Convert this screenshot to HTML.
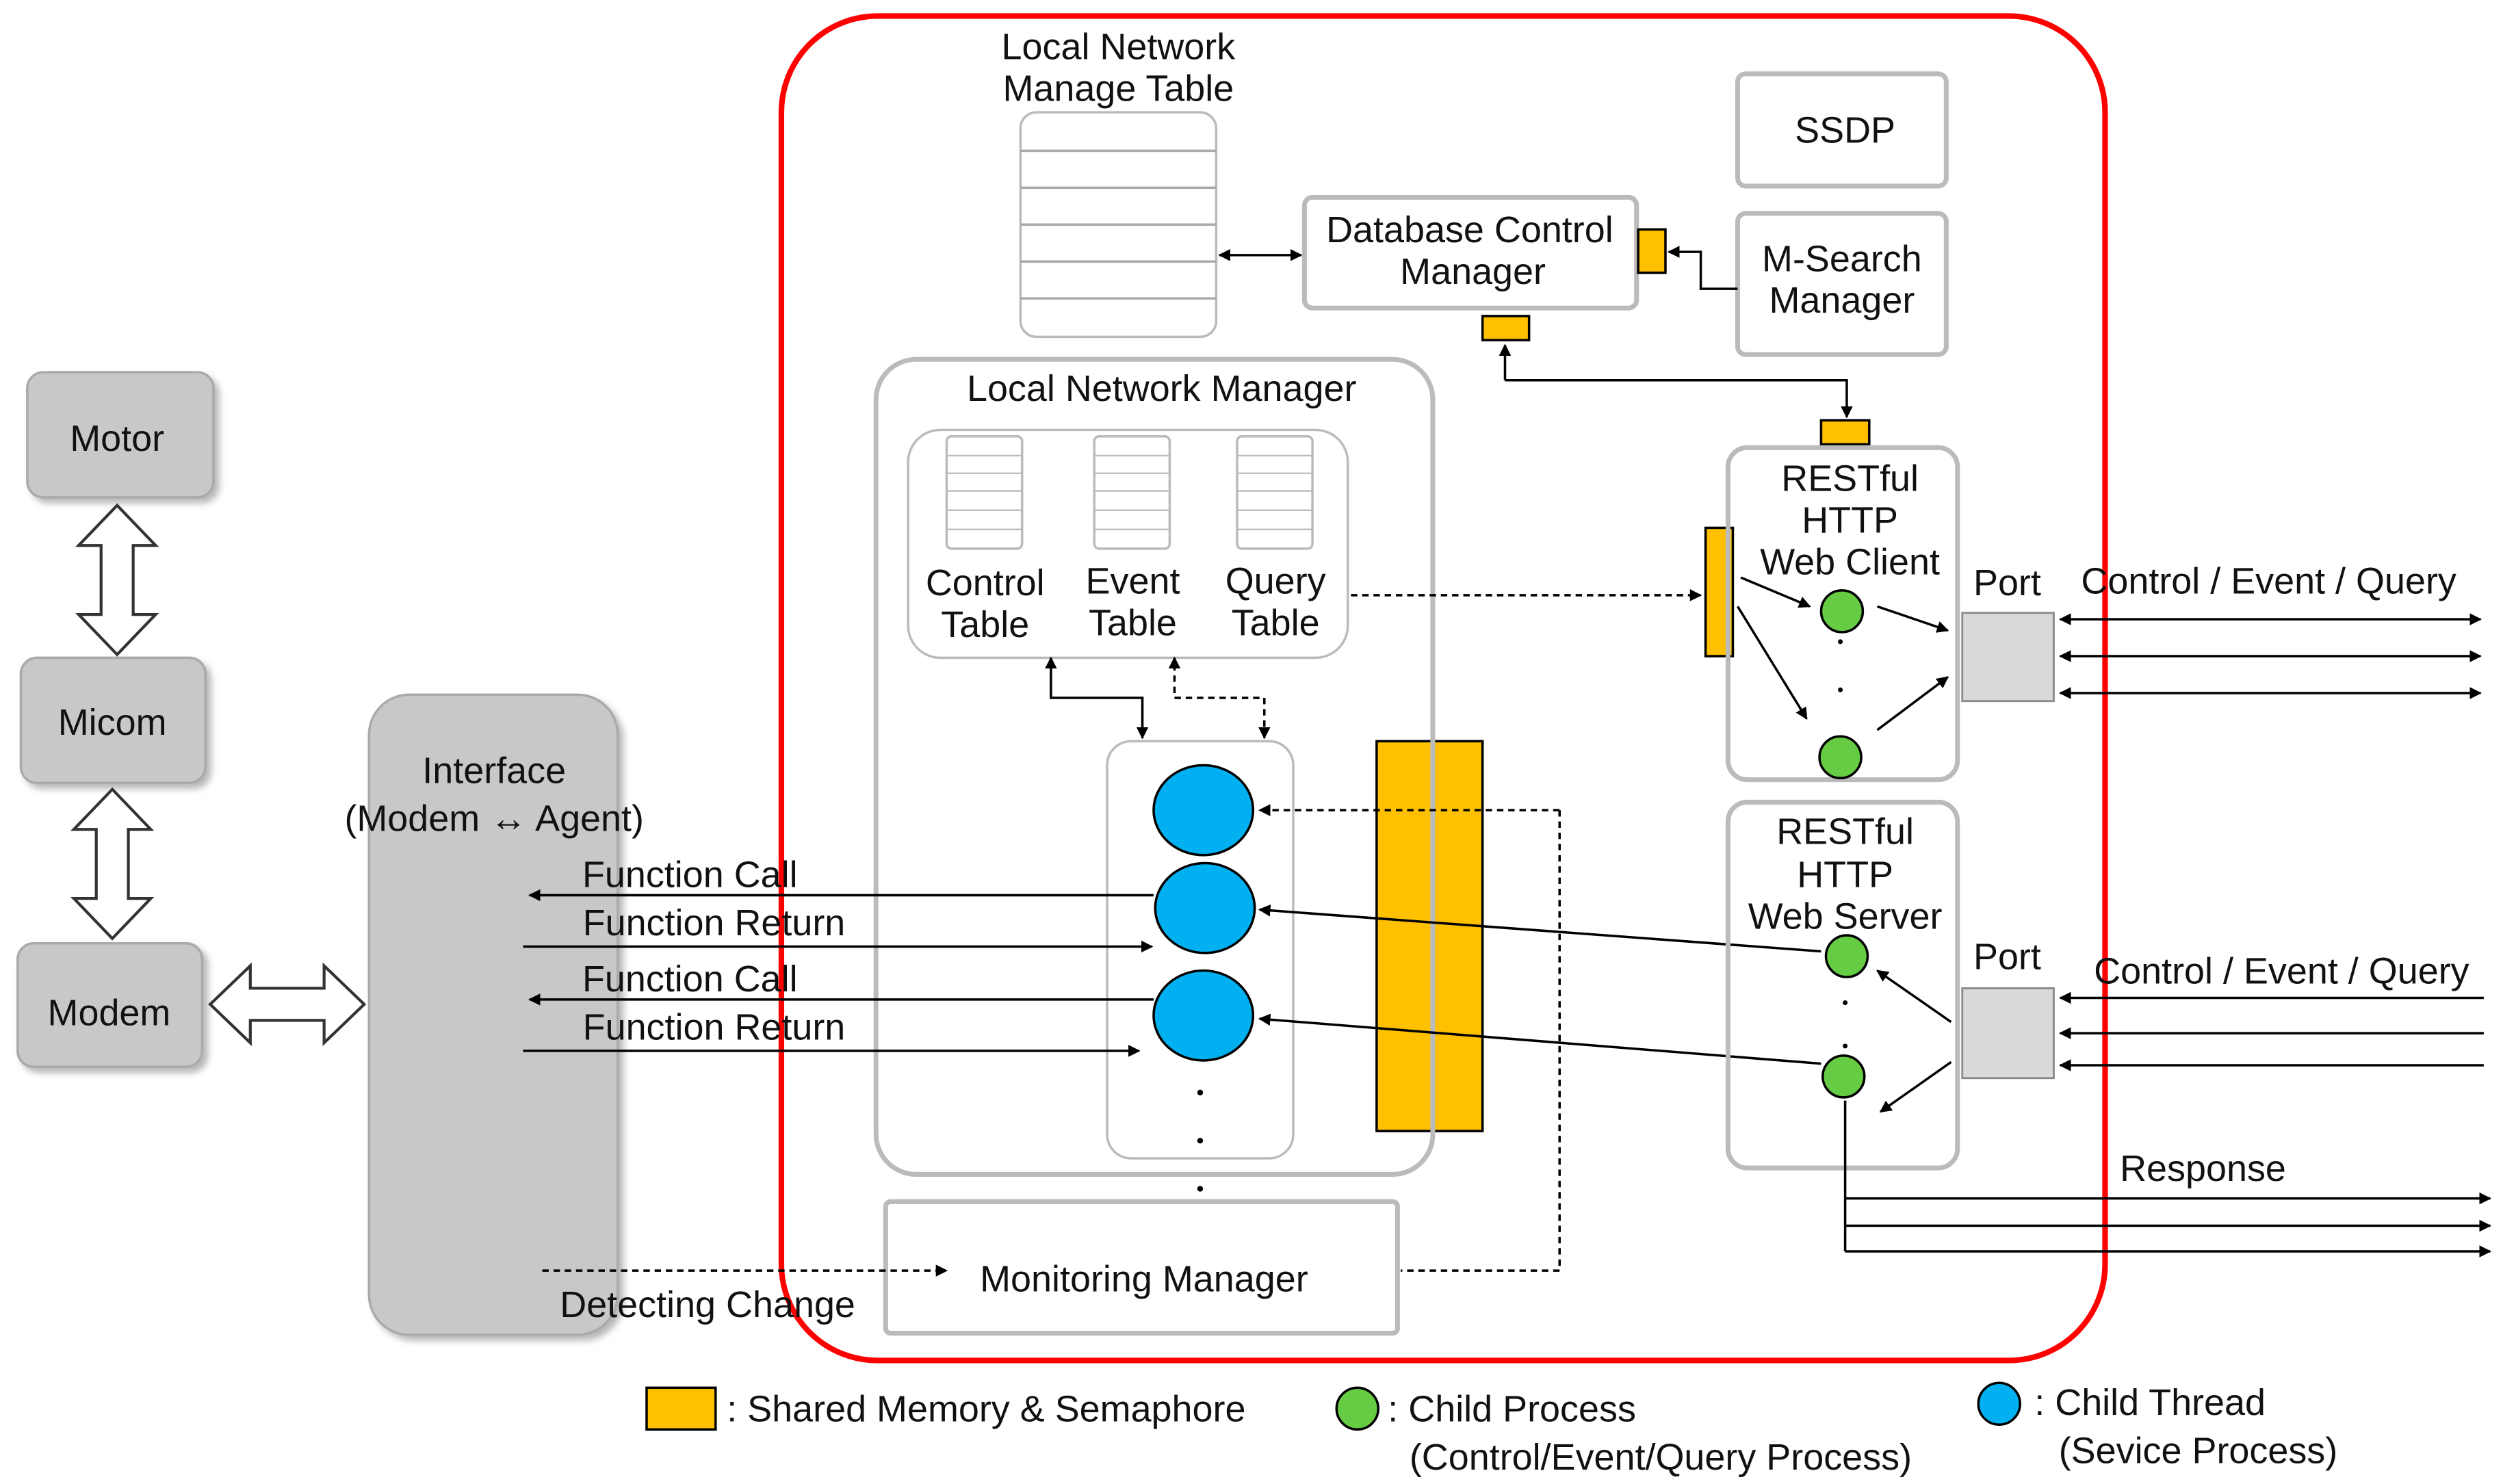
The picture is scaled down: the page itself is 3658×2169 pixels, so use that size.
<!DOCTYPE html>
<html><head><meta charset="utf-8"><style>
html,body{margin:0;padding:0;background:#fff}
svg{display:block}
text{font-family:"Liberation Sans",sans-serif;font-size:23px;fill:#111}
</style></head><body>
<svg width="3658" height="2169" viewBox="0 0 1560 925" preserveAspectRatio="none" xmlns="http://www.w3.org/2000/svg">
<defs>
<marker id="a" viewBox="0 0 10 10" refX="9" refY="5" markerWidth="5" markerHeight="5" orient="auto-start-reverse"><path d="M0,0 L10,5 L0,10 z" fill="#000"/></marker>
<filter id="sh" x="-20%" y="-20%" width="150%" height="150%"><feDropShadow dx="3" dy="3" stdDeviation="2" flood-color="#888" flood-opacity="0.6"/></filter>
</defs>
<!-- red container -->
<rect x="487" y="10" width="825" height="838" rx="60" fill="none" stroke="#f00" stroke-width="3.5"/>

<!-- left gray boxes -->
<g fill="#c8c8c8" stroke="#aaa" stroke-width="1.5" filter="url(#sh)">
<rect x="17" y="232" width="116" height="78" rx="10"/>
<rect x="13" y="410" width="115" height="78" rx="10"/>
<rect x="11" y="588" width="115" height="77" rx="10"/>
<rect x="230" y="433" width="155" height="399" rx="25"/>
</g>
<text x="73" y="281" text-anchor="middle">Motor</text>
<text x="70" y="458" text-anchor="middle">Micom</text>
<text x="68" y="639" text-anchor="middle">Modem</text>
<text x="308" y="488" text-anchor="middle">Interface</text>
<text x="308" y="518" text-anchor="middle">(Modem ↔ Agent)</text>

<!-- hollow double arrows -->
<g fill="#fff" stroke="#333" stroke-width="1.8">
<path d="M73,315 L97,340 L83,340 L83,383 L97,383 L73,408 L49,383 L63,383 L63,340 L49,340 Z"/>
<path d="M70,492 L94,517 L80,517 L80,560 L94,560 L70,585 L46,560 L60,560 L60,517 L46,517 Z"/>
<path d="M131,626 L156,602 L156,616 L202,616 L202,602 L227,626 L202,650 L202,636 L156,636 L156,650 Z"/>
</g>

<!-- Local network manage table -->
<text x="697" y="37" text-anchor="middle">Local Network</text>
<text x="697" y="63" text-anchor="middle">Manage Table</text>
<rect x="636" y="70" width="122" height="140" rx="10" fill="#fff" stroke="#bbb" stroke-width="1.5"/>
<g stroke="#aaa" stroke-width="1.5">
<line x1="636" y1="94" x2="758" y2="94"/><line x1="636" y1="117" x2="758" y2="117"/><line x1="636" y1="140" x2="758" y2="140"/><line x1="636" y1="163" x2="758" y2="163"/><line x1="636" y1="186" x2="758" y2="186"/>
</g>
<line x1="760" y1="159" x2="811" y2="159" stroke="#000" stroke-width="1.5" marker-start="url(#a)" marker-end="url(#a)"/>

<!-- DB control manager -->
<rect x="813" y="123" width="207" height="69" rx="5" fill="#fff" stroke="#bbb" stroke-width="3"/>
<text x="916" y="151" text-anchor="middle">Database Control</text>
<text x="918" y="177" text-anchor="middle">Manager</text>
<rect x="1083" y="46" width="130" height="70" rx="5" fill="#fff" stroke="#bbb" stroke-width="3"/>
<text x="1150" y="89" text-anchor="middle">SSDP</text>
<rect x="1083" y="133" width="130" height="88" rx="5" fill="#fff" stroke="#bbb" stroke-width="3"/>
<text x="1148" y="169" text-anchor="middle">M-Search</text>
<text x="1148" y="195" text-anchor="middle">Manager</text>

<g fill="#ffc000" stroke="#000" stroke-width="1.5">
<rect x="1021" y="143" width="17" height="27"/>
<rect x="924" y="197" width="29" height="15"/>
<rect x="1135" y="262" width="30" height="15"/>
<rect x="1063" y="329" width="17" height="80"/>
<rect x="858" y="462" width="66" height="243"/>
</g>
<g stroke="#000" stroke-width="1.5" fill="none">
<polyline points="1083,180 1060,180 1060,157 1040,157" marker-end="url(#a)"/>
<polyline points="938,237 938,215" marker-end="url(#a)"/>
<polyline points="938,237 1151,237 1151,260" marker-end="url(#a)"/>
</g>

<!-- Local network manager -->
<rect x="546" y="224" width="347" height="508" rx="25" fill="none" stroke="#bbb" stroke-width="3"/>
<text x="724" y="250" text-anchor="middle">Local Network Manager</text>
<rect x="566" y="268" width="274" height="142" rx="20" fill="#fff" stroke="#bbb" stroke-width="1.5"/>
<g fill="#fff" stroke="#bbb" stroke-width="1.5">
<rect x="590" y="272" width="47" height="70" rx="3"/>
<rect x="682" y="272" width="47" height="70" rx="3"/>
<rect x="771" y="272" width="47" height="70" rx="3"/>
</g>
<g stroke="#bbb" stroke-width="1">
<path d="M590,284h47M590,295h47M590,306h47M590,318h47M590,330h47"/>
<path d="M682,284h47M682,295h47M682,306h47M682,318h47M682,330h47"/>
<path d="M771,284h47M771,295h47M771,306h47M771,318h47M771,330h47"/>
</g>
<text x="614" y="371" text-anchor="middle">Control</text><text x="614" y="397" text-anchor="middle">Table</text>
<text x="706" y="370" text-anchor="middle">Event</text><text x="706" y="396" text-anchor="middle">Table</text>
<text x="795" y="370" text-anchor="middle">Query</text><text x="795" y="396" text-anchor="middle">Table</text>

<line x1="842" y1="371" x2="1060" y2="371" stroke="#000" stroke-width="1.5" stroke-dasharray="4,3" marker-end="url(#a)"/>

<rect x="690" y="462" width="116" height="260" rx="15" fill="#fff" stroke="#bbb" stroke-width="1.5"/>
<g stroke="#000" stroke-width="1.5" fill="none">
<polyline points="712,460 712,435 655,435 655,410" marker-start="url(#a)" marker-end="url(#a)"/>
<polyline points="788,460 788,435 732,435 732,410" stroke-dasharray="4,3" marker-start="url(#a)" marker-end="url(#a)"/>
</g>
<g fill="#00b0f0" stroke="#000" stroke-width="1.5">
<ellipse cx="750" cy="505" rx="31" ry="28"/>
<ellipse cx="751" cy="566" rx="31" ry="28"/>
<ellipse cx="750" cy="633" rx="31" ry="28"/>
</g>
<g fill="#000"><circle cx="748" cy="681" r="1.8"/><circle cx="748" cy="711" r="1.8"/><circle cx="748" cy="741" r="1.8"/></g>

<!-- monitoring -->
<rect x="552" y="749" width="319" height="82" rx="3" fill="#fff" stroke="#bbb" stroke-width="3"/>
<text x="713" y="805" text-anchor="middle">Monitoring Manager</text>
<text x="441" y="821" text-anchor="middle">Detecting Change</text>

<g stroke="#000" stroke-width="1.5" fill="none">
<polyline points="972,505 785,505" stroke-dasharray="4,3" marker-end="url(#a)"/>
<polyline points="972,505 972,792 873,792" stroke-dasharray="4,3"/>
<line x1="719" y1="558" x2="330" y2="558" marker-end="url(#a)"/>
<line x1="326" y1="590" x2="718" y2="590" marker-end="url(#a)"/>
<line x1="719" y1="623" x2="330" y2="623" marker-end="url(#a)"/>
<line x1="326" y1="655" x2="710" y2="655" marker-end="url(#a)"/>
<line x1="1135" y1="593" x2="785" y2="567" marker-end="url(#a)"/>
<line x1="1135" y1="663" x2="785" y2="635" marker-end="url(#a)"/>
<line x1="338" y1="792" x2="590" y2="792" stroke-dasharray="4,3" marker-end="url(#a)"/>
</g>
<text x="430" y="553" text-anchor="middle">Function Call</text>
<text x="445" y="583" text-anchor="middle">Function Return</text>
<text x="430" y="618" text-anchor="middle">Function Call</text>
<text x="445" y="648" text-anchor="middle">Function Return</text>

<!-- web client -->
<rect x="1077" y="279" width="143" height="207" rx="12" fill="none" stroke="#bbb" stroke-width="3"/>
<text x="1153" y="306" text-anchor="middle">RESTful</text>
<text x="1153" y="332" text-anchor="middle">HTTP</text>
<text x="1153" y="358" text-anchor="middle">Web Client</text>
<g fill="#66cc44" stroke="#000" stroke-width="1.5">
<circle cx="1148" cy="381" r="13"/><circle cx="1147" cy="472" r="13"/>
<circle cx="1151" cy="596" r="13"/><circle cx="1149" cy="671" r="13"/>
</g>
<g fill="#000"><circle cx="1147" cy="400" r="1.5"/><circle cx="1147" cy="430" r="1.5"/><circle cx="1150" cy="625" r="1.5"/><circle cx="1150" cy="652" r="1.5"/></g>
<g stroke="#000" stroke-width="1.5">
<line x1="1085" y1="360" x2="1128" y2="378" marker-end="url(#a)"/>
<line x1="1083" y1="378" x2="1126" y2="448" marker-end="url(#a)"/>
<line x1="1170" y1="378" x2="1214" y2="393" marker-end="url(#a)"/>
<line x1="1170" y1="455" x2="1214" y2="422" marker-end="url(#a)"/>
<line x1="1216" y1="637" x2="1170" y2="605" marker-end="url(#a)"/>
<line x1="1216" y1="662" x2="1172" y2="693" marker-end="url(#a)"/>
</g>
<rect x="1223" y="382" width="57" height="55" fill="#d9d9d9" stroke="#888" stroke-width="1.2"/>
<text x="1251" y="371" text-anchor="middle">Port</text>
<text x="1414" y="370" text-anchor="middle">Control / Event / Query</text>
<g stroke="#000" stroke-width="1.5">
<line x1="1284" y1="386" x2="1546" y2="386" marker-start="url(#a)" marker-end="url(#a)"/>
<line x1="1284" y1="409" x2="1546" y2="409" marker-start="url(#a)" marker-end="url(#a)"/>
<line x1="1284" y1="432" x2="1546" y2="432" marker-start="url(#a)" marker-end="url(#a)"/>
</g>

<!-- web server -->
<rect x="1077" y="500" width="143" height="228" rx="12" fill="none" stroke="#bbb" stroke-width="3"/>
<text x="1150" y="526" text-anchor="middle">RESTful</text>
<text x="1150" y="553" text-anchor="middle">HTTP</text>
<text x="1150" y="579" text-anchor="middle">Web Server</text>
<rect x="1223" y="616" width="57" height="56" fill="#d9d9d9" stroke="#888" stroke-width="1.2"/>
<text x="1251" y="604" text-anchor="middle">Port</text>
<text x="1422" y="613" text-anchor="middle">Control / Event / Query</text>
<g stroke="#000" stroke-width="1.5">
<line x1="1548" y1="622" x2="1284" y2="622" marker-end="url(#a)"/>
<line x1="1548" y1="644" x2="1284" y2="644" marker-end="url(#a)"/>
<line x1="1548" y1="664" x2="1284" y2="664" marker-end="url(#a)"/>
<polyline points="1150,686 1150,780" fill="none"/>
<line x1="1150" y1="747" x2="1552" y2="747" marker-end="url(#a)"/>
<line x1="1150" y1="764" x2="1552" y2="764" marker-end="url(#a)"/>
<line x1="1150" y1="780" x2="1552" y2="780" marker-end="url(#a)"/>
</g>
<text x="1373" y="736" text-anchor="middle">Response</text>

<!-- legend -->
<rect x="403" y="865" width="43" height="26" fill="#ffc000" stroke="#000" stroke-width="1.5"/>
<text x="453" y="886">: Shared Memory  &amp; Semaphore</text>
<circle cx="846" cy="878" r="13" fill="#66cc44" stroke="#000" stroke-width="1.5"/>
<text x="865" y="886">: Child Process</text>
<text x="1035" y="916" text-anchor="middle">(Control/Event/Query Process)</text>
<circle cx="1246" cy="875" r="13" fill="#00b0f0" stroke="#000" stroke-width="1.5"/>
<text x="1268" y="882">: Child  Thread</text>
<text x="1370" y="912" text-anchor="middle">(Sevice Process)</text>
</svg>
</body></html>
